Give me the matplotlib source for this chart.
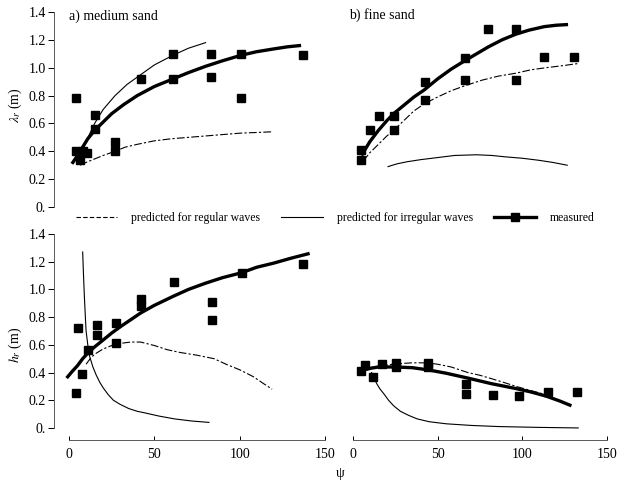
import matplotlib.pyplot as plt
from matplotlib.lines import Line2D
from matplotlib.ticker import FuncFormatter

plt.rcParams['font.family'] = ['Liberation Serif', 'DejaVu Serif']
plt.rcParams['mathtext.fontset'] = 'stix'

# a) medium sand - ripple length (measured points)
a_len_psi = [4, 4, 6.5, 8, 10.5, 15.3, 15.3, 27, 27, 42, 61, 61, 83.4, 83.4, 101, 101, 137]
a_len_val = [0.78, 0.40, 0.34, 0.40, 0.39, 0.66, 0.56, 0.47, 0.40, 0.92, 1.10, 0.92, 1.10, 0.93, 1.10, 0.78, 1.09]
# curves
a_len_fit_psi = [1.7, 5, 8, 11, 15, 20, 25, 32, 40, 50, 61, 70, 80, 90, 101, 110, 120, 128, 136]
a_len_fit_val = [0.31, 0.37, 0.43, 0.49, 0.55, 0.61, 0.67, 0.735, 0.80, 0.865, 0.92, 0.965, 1.01, 1.05, 1.09, 1.115, 1.135, 1.15, 1.16]
a_len_reg_psi = [6.5, 10, 15, 20, 27, 33, 40, 50, 60, 70, 80, 90, 100, 110, 119]
a_len_reg_val = [0.30, 0.32, 0.345, 0.37, 0.40, 0.43, 0.45, 0.475, 0.49, 0.50, 0.51, 0.52, 0.53, 0.535, 0.54]
a_len_irr_psi = [6.5, 10, 15, 20, 27, 34, 42, 50, 61, 70, 80]
a_len_irr_val = [0.36, 0.47, 0.60, 0.70, 0.80, 0.88, 0.95, 1.02, 1.09, 1.14, 1.18]

# b) fine sand - ripple length
b_len_psi = [5, 5, 10, 15.5, 24, 24, 42.4, 42.4, 66, 66, 79.6, 96, 96, 113, 130.6]
b_len_val = [0.41, 0.34, 0.55, 0.65, 0.65, 0.55, 0.90, 0.77, 1.07, 0.91, 1.28, 1.28, 0.91, 1.08, 1.08]
b_len_fit_psi = [5, 8, 10, 15, 20, 24, 30, 36, 42, 50, 58, 66, 73, 80, 88, 96, 104, 113, 120, 127]
b_len_fit_val = [0.37, 0.43, 0.47, 0.55, 0.62, 0.67, 0.73, 0.79, 0.84, 0.92, 0.99, 1.05, 1.10, 1.15, 1.20, 1.24, 1.27, 1.295, 1.305, 1.31]
b_len_reg_psi = [6, 10, 15, 20, 24, 30, 36, 42, 50, 58, 66, 76, 86, 96, 105, 114, 124, 133]
b_len_reg_val = [0.33, 0.39, 0.45, 0.51, 0.55, 0.62, 0.69, 0.74, 0.79, 0.835, 0.87, 0.91, 0.94, 0.96, 0.985, 1.00, 1.015, 1.03]
b_len_irr_psi = [20.7, 26, 32, 40, 50, 60, 73, 82, 90, 100, 110, 118, 126.5]
b_len_irr_val = [0.29, 0.31, 0.325, 0.34, 0.355, 0.37, 0.375, 0.37, 0.36, 0.35, 0.335, 0.32, 0.30]

# a) medium sand - ripple height
a_hgt_psi = [4, 5, 7.5, 11.4, 16.3, 16.3, 27.6, 27.6, 42.4, 42.4, 61.4, 84, 84, 101.6, 137]
a_hgt_val = [0.25, 0.72, 0.39, 0.56, 0.74, 0.67, 0.76, 0.61, 0.93, 0.88, 1.05, 0.91, 0.78, 1.12, 1.18]
a_hgt_fit_psi = [-1.4, 2, 5, 8, 11, 15, 20, 25, 30, 36, 42, 50, 61, 70, 80, 90, 101, 110, 120, 130, 141]
a_hgt_fit_val = [0.36, 0.41, 0.45, 0.50, 0.54, 0.585, 0.635, 0.685, 0.73, 0.78, 0.83, 0.885, 0.95, 1.0, 1.045, 1.085, 1.12, 1.16, 1.19, 1.225, 1.26]
a_hgt_reg_psi = [10, 13, 16, 20, 25, 30, 36, 42, 50, 57.5, 65, 75, 85, 92, 100, 108, 114, 119]
a_hgt_reg_val = [0.46, 0.51, 0.54, 0.57, 0.595, 0.61, 0.62, 0.62, 0.595, 0.565, 0.545, 0.525, 0.50, 0.46, 0.42, 0.37, 0.32, 0.28]
a_hgt_irr_psi = [8, 8.5, 9, 9.5, 10, 11, 12, 14, 16, 18, 20, 23, 26, 30, 35, 40, 44, 53, 62, 72, 82]
a_hgt_irr_val = [1.27, 1.10, 0.95, 0.82, 0.70, 0.60, 0.52, 0.44, 0.38, 0.33, 0.29, 0.24, 0.20, 0.17, 0.14, 0.12, 0.11, 0.085, 0.065, 0.05, 0.04]

# b) fine sand - ripple height
b_hgt_psi = [5, 7, 12, 17, 25.3, 25.3, 44.3, 44.3, 67, 67, 82.5, 98, 115, 132]
b_hgt_val = [0.41, 0.455, 0.37, 0.46, 0.47, 0.44, 0.47, 0.44, 0.32, 0.245, 0.235, 0.23, 0.26, 0.26]
b_hgt_fit_psi = [3.7, 10, 15, 25, 35, 44, 55, 67.8, 81.6, 96, 105, 114, 122, 129]
b_hgt_fit_val = [0.41, 0.43, 0.44, 0.44, 0.435, 0.42, 0.395, 0.36, 0.32, 0.285, 0.26, 0.23, 0.195, 0.16]
b_hgt_reg_psi = [5, 12, 20, 28, 35, 44, 50, 58, 67.8, 75, 82, 90, 96.3, 105, 114]
b_hgt_reg_val = [0.42, 0.44, 0.455, 0.465, 0.47, 0.47, 0.46, 0.44, 0.40, 0.38, 0.355, 0.325, 0.30, 0.27, 0.24]
b_hgt_irr_psi = [11, 12.5, 14, 16, 18, 21, 24, 28, 33, 38, 45, 55, 70, 86, 110, 133]
b_hgt_irr_val = [0.40, 0.36, 0.32, 0.28, 0.25, 0.20, 0.16, 0.12, 0.09, 0.065, 0.045, 0.03, 0.018, 0.01, 0.004, 0.0]

y_ticks = [0, 0.2, 0.4, 0.6, 0.8, 1.0, 1.2, 1.4]
x_ticks = [0, 50, 100, 150]

W, H = 619, 483
fig = plt.figure(figsize=(W / 100, H / 100), dpi=100)


def px_axes(x0, x1, y_top, y_bot):
    return fig.add_axes([x0 / W, 1 - y_bot / H, (x1 - x0) / W, (y_bot - y_top) / H])


ax_tl = px_axes(54, 325, 12, 207)
ax_tr = px_axes(353, 607, 12, 207)
ax_bl = px_axes(54, 325, 234, 440)
ax_br = px_axes(353, 607, 234, 440)

ax_tl.set_xlim(-8.8, 150)
ax_bl.set_xlim(-8.8, 150)
ax_tr.set_xlim(0, 150)
ax_br.set_xlim(0, 150)
ax_tl.set_ylim(0, 1.4)
ax_tr.set_ylim(0, 1.4)
ax_bl.set_ylim(-0.087, 1.4)
ax_br.set_ylim(-0.087, 1.4)

panels = [
    (ax_tl, a_len_psi, a_len_val, a_len_fit_psi, a_len_fit_val, a_len_reg_psi, a_len_reg_val, a_len_irr_psi, a_len_irr_val),
    (ax_tr, b_len_psi, b_len_val, b_len_fit_psi, b_len_fit_val, b_len_reg_psi, b_len_reg_val, b_len_irr_psi, b_len_irr_val),
    (ax_bl, a_hgt_psi, a_hgt_val, a_hgt_fit_psi, a_hgt_fit_val, a_hgt_reg_psi, a_hgt_reg_val, a_hgt_irr_psi, a_hgt_irr_val),
    (ax_br, b_hgt_psi, b_hgt_val, b_hgt_fit_psi, b_hgt_fit_val, b_hgt_reg_psi, b_hgt_reg_val, b_hgt_irr_psi, b_hgt_irr_val),
]

for ax, px, py, fx, fy, rx, ry, ix, iy in panels:
    ax.patch.set_alpha(0)
    ax.plot(rx, ry, color='black', lw=0.8, dashes=(7, 2, 2, 2), clip_on=False)
    ax.plot(ix, iy, color='black', lw=0.8, clip_on=False)
    ax.plot(fx, fy, color='black', lw=2.4, solid_capstyle='butt', solid_joinstyle='round', clip_on=False)
    ax.plot(px, py, 's', color='black', ms=6.2, clip_on=False)
    for s in ['top', 'right', 'left', 'bottom']:
        ax.spines[s].set_visible(False)

fmt = FuncFormatter(lambda v, p: '0.' if abs(v) < 1e-9 else '%.1f' % v)
for ax in [ax_tl, ax_bl]:
    ax.spines['left'].set_visible(True)
    ax.spines['left'].set_bounds(0, 1.4)
    ax.spines['left'].set_linewidth(0.7)
    ax.spines['left'].set_color('0.35')
    ax.set_yticks(y_ticks)
    ax.yaxis.set_major_formatter(fmt)
    ax.tick_params(axis='y', direction='out', length=4, width=0.7, labelsize=10, pad=2)
for ax in [ax_tr, ax_br]:
    ax.set_yticks([])
for ax in [ax_tl, ax_tr]:
    ax.set_xticks([])
for ax in [ax_bl, ax_br]:
    ax.spines['bottom'].set_visible(True)
    ax.spines['bottom'].set_bounds(0, 150)
    ax.spines['bottom'].set_linewidth(0.7)
    ax.spines['bottom'].set_color('0.35')
    ax.set_xticks(x_ticks)
    ax.tick_params(axis='x', direction='in', length=3, width=0.7, labelsize=10, pad=6)

fig.text(15 / W, 1 - 105 / H, r'$\lambda_r$ (m)', rotation=90, ha='center', va='center', fontsize=10)
fig.text(15 / W, 1 - 345 / H, r'$h_r$ (m)', rotation=90, ha='center', va='center', fontsize=10)
fig.text(69 / W, 1 - 16 / H, 'a) medium sand', ha='left', va='center', fontsize=10)
fig.text(349 / W, 1 - 15 / H, 'b) fine sand', ha='left', va='center', fontsize=10)
fig.text(340 / W, 1 - 473 / H, 'ψ', ha='center', va='center', fontsize=10)

handles = [
    Line2D([], [], color='black', lw=0.8, dashes=(4, 2)),
    Line2D([], [], color='black', lw=0.8),
    Line2D([], [], color='black', lw=2.4, marker='s', ms=6),
]
labels = ['predicted for regular waves', 'predicted for irregular waves', 'measured']
fig.legend(handles, labels, loc='center', bbox_to_anchor=(335 / W, 1 - 218 / H), ncol=3,
           frameon=False, fontsize=8.5, handlelength=3.5, columnspacing=1.8, handletextpad=1.2)

fig.savefig('out.png', dpi=100)
